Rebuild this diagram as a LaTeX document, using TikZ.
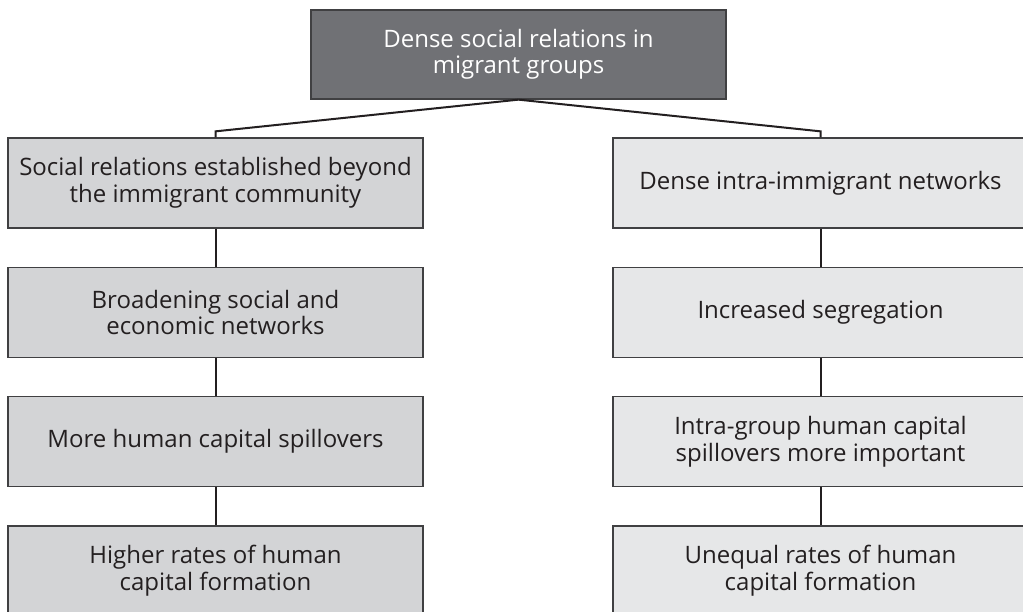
\documentclass[tikz,border=0pt]{standalone}
\usepackage{fontspec}
\setmainfont{Open Sans}
\usepackage{xcolor}
\usepackage{tikz}
\usetikzlibrary{positioning, calc}
\definecolor{topbg}{HTML}{707175}
\definecolor{leftbg}{HTML}{D3D4D6}
\definecolor{rightbg}{HTML}{E6E7E8}
\definecolor{edgegray}{HTML}{404042}
\definecolor{txtgray}{HTML}{231F20}
\tikzset{
  box/.style={rectangle, draw=edgegray, line width=1.3pt, align=center,
    minimum width=415pt, minimum height=90pt, inner sep=0pt,
    font=\fontsize{24pt}{26.5pt}\selectfont, text=txtgray},
  headbox/.style={box, fill=topbg, text=white, minimum height=89pt},
  leftbox/.style={box, fill=leftbg},
  rightbox/.style={box, fill=rightbg},
  link/.style={line width=2pt, draw=txtgray},
}

\begin{document}
\begin{tikzpicture}[x=1pt, y=1pt, node distance=38pt]
  \useasboundingbox (0,0) rectangle (1023,611);
  \clip (0,0) rectangle (1023,611);
  \node[headbox] (head) at (518.5,556.5) {Dense social relations in\\migrant groups};

  \node[leftbox] (beyond) at (215.5,428) {Social relations established beyond\\the immigrant community};
  \node[leftbox, below=of beyond] (broad) {Broadening social and\\economic networks};
  \node[leftbox, below=of broad] (spill) {More human capital spillovers};
  \node[leftbox, below=of spill] (higher) {Higher rates of human\\capital formation};

  \node[rightbox] (dense) at (820.5,428) {Dense intra-immigrant networks};
  \node[rightbox, below=of dense] (segr) {Increased segregation};
  \node[rightbox, below=of segr] (intra) {Intra-group human capital\\spillovers more important};
  \node[rightbox, below=of intra] (unequal) {Unequal rates of human\\capital formation};

  \draw[link] (head.south) -- ([yshift=6pt]beyond.north) -- (beyond.north);
  \draw[link] (head.south) -- ([yshift=6pt]dense.north) -- (dense.north);
  \draw[link] (beyond) -- (broad);
  \draw[link] (broad) -- (spill);
  \draw[link] (spill) -- (higher);
  \draw[link] (dense) -- (segr);
  \draw[link] (segr) -- (intra);
  \draw[link] (intra) -- (unequal);
\end{tikzpicture}
\end{document}
